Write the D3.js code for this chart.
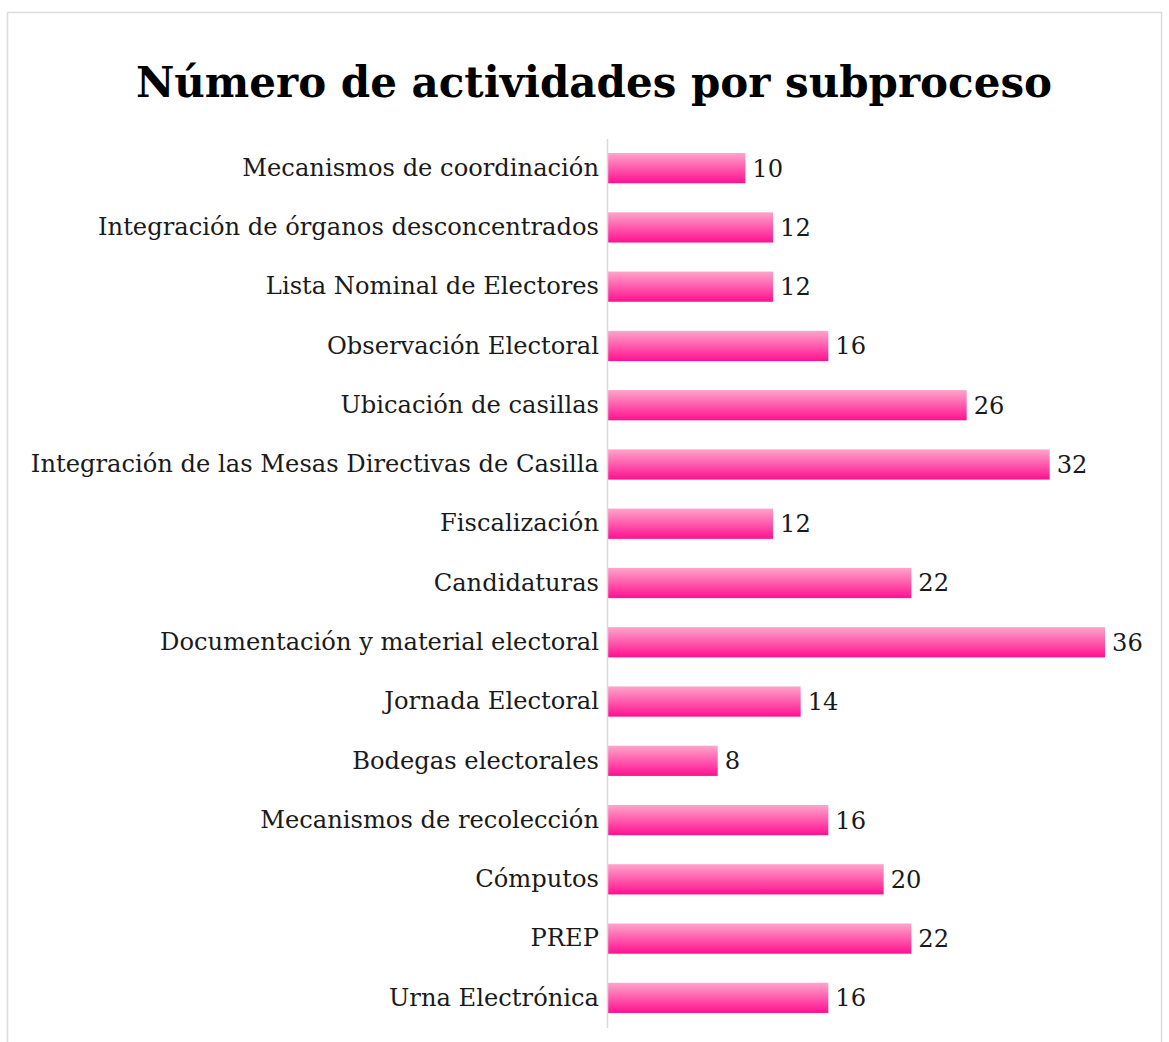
<!DOCTYPE html>
<html>
<head>
<meta charset="utf-8">
<script src="https://cdn.jsdelivr.net/npm/d3@7"></script>
<style>
  body { margin: 0; background: #fff; }
</style>
</head>
<body>
<div id="chart"></div>
<script>
const categories = [
  "Mecanismos de coordinación",
  "Integración de órganos desconcentrados",
  "Lista Nominal de Electores",
  "Observación Electoral",
  "Ubicación de casillas",
  "Integración de las Mesas Directivas de Casilla",
  "Fiscalización",
  "Candidaturas",
  "Documentación y material electoral",
  "Jornada Electoral",
  "Bodegas electorales",
  "Mecanismos de recolección",
  "Cómputos",
  "PREP",
  "Urna Electrónica"
];
const values = [10, 12, 12, 16, 26, 32, 12, 22, 36, 14, 8, 16, 20, 22, 16];
const title = "Número de actividades por subproceso";

const svgWidth = 1169;
const svgHeight = 1042;

const svg = d3.select("#chart")
  .append("svg")
  .attr("width", svgWidth)
  .attr("height", svgHeight)
  .style("font-family", "'DejaVu Serif', serif");

// frame
svg.append("rect")
  .attr("x", 7.5)
  .attr("y", 12.5)
  .attr("width", 1154)
  .attr("height", 1040)
  .attr("fill", "#fff")
  .attr("stroke", "#dcdce0")
  .attr("stroke-width", 1.5);

// gradient for bars
const gradient = svg.append("defs")
  .append("linearGradient")
  .attr("id", "barGradient")
  .attr("x1", 0).attr("y1", 0).attr("x2", 0).attr("y2", 1);

gradient.append("stop").attr("offset", "0%").attr("stop-color", "#ffa5ca");
gradient.append("stop").attr("offset", "100%").attr("stop-color", "#ff1090");

// title
svg.append("text")
  .attr("x", 594)
  .attr("y", 97)
  .attr("text-anchor", "middle")
  .style("font-size", "42px")
  .style("font-weight", "bold")
  .text(title);

const x0 = 607;

const xScale = d3.scaleLinear()
  .domain([0, 36])
  .range([x0, 1105]);

const yScale = d3.scaleBand()
  .domain(categories)
  .range([138.5, 1027.5])
  .paddingInner(0.49)
  .paddingOuter(0.245);

// bars
svg.selectAll("rect.bar")
  .data(values)
  .enter()
  .append("rect")
  .attr("class", "bar")
  .attr("x", xScale(0))
  .attr("y", (d, i) => yScale(categories[i]))
  .attr("width", d => xScale(d) - xScale(0))
  .attr("height", yScale.bandwidth())
  .attr("fill", "url(#barGradient)");

// y axis (line only + labels)
const yAxis = svg.append("g")
  .attr("transform", `translate(${x0}, 0)`)
  .call(d3.axisLeft(yScale).tickSize(0).tickPadding(8));

yAxis.select(".domain")
  .attr("stroke", "#d9d9de")
  .attr("stroke-width", 1.5);

yAxis.selectAll("text")
  .style("font-family", "'DejaVu Serif', serif")
  .style("font-size", "24.2px")
  .attr("fill", "#1a1a1a");

// value labels
svg.selectAll("text.value")
  .data(values)
  .enter()
  .append("text")
  .attr("class", "value")
  .attr("x", d => xScale(d) + 7)
  .attr("y", (d, i) => yScale(categories[i]) + yScale.bandwidth() / 2)
  .attr("dy", "0.35em")
  .style("font-size", "24.2px")
  .attr("fill", "#1a1a1a")
  .text(d => d);
</script>
</body>
</html>
